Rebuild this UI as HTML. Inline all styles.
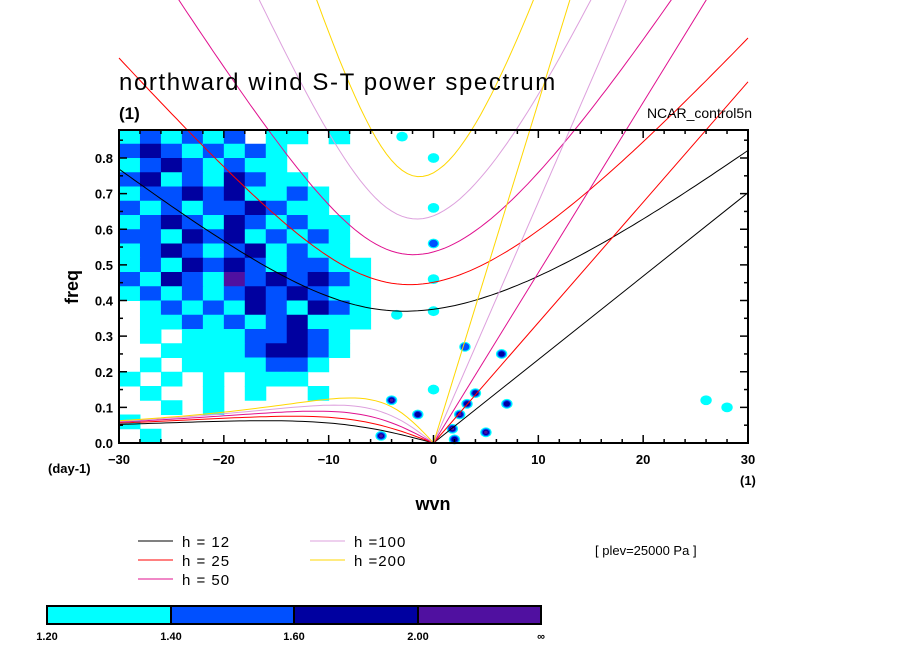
<!DOCTYPE html>
<html><head><meta charset="utf-8"><style>
html,body{margin:0;padding:0;background:#fff;}
svg{display:block;font-family:"Liberation Sans",sans-serif;}
</style></head><body>
<svg id="chart" width="904" height="654" viewBox="0 0 904 654" xmlns="http://www.w3.org/2000/svg">
<g id="fills"></g>
<g id="curves"></g>
<g id="axes"></g>
<text x="119" y="90" font-size="24" letter-spacing="1.6" fill="#000">northward wind S-T power spectrum</text>
<text x="119" y="119" font-size="17" font-weight="bold" fill="#000">(1)</text>
<text x="752" y="118" font-size="14" text-anchor="end" fill="#000">NCAR_control5n</text>
<text x="78" y="287" font-size="18" text-anchor="middle" transform="rotate(-90 78 287)" font-weight="bold" fill="#000">freq</text>
<text x="48" y="473" font-size="13" font-weight="bold" fill="#000">(day-1)</text>
<text x="740" y="485" font-size="13" font-weight="bold" fill="#000">(1)</text>
<text x="433" y="510" font-size="18" text-anchor="middle" font-weight="bold" fill="#000">wvn</text>
<g id="legend"></g>
<text x="595" y="555" font-size="13" fill="#000">[ plev=25000 Pa ]</text>
<g id="cbar"></g>
</svg>
<script>
// ---- data ----
const levelColors = ["none","#00ffff","#0050ff","#0000a0","#5010a0"];
const cbarLabels = ["1.20","1.40","1.60","2.00","∞"];
const depths = [12,25,50,100,200];
const depthColors = ["#000000","#ff0000","#e0108f","#dda0dd","#ffd700"];
const gridS0 = -30, gridDS = 2, gridFTop = 0.88, gridDF = 0.04;
const gridRows = [
"1212120110100",
"2321212100000",
"1232121100000",
"2312132110000",
"1223231121000",
"2121223211000",
"1232132121100",
"2213231212100",
"1232123121100",
"1213232122110",
"2132142323210",
"1212123232110",
"0121213213210",
"0112121231110",
"0101112232100",
"0011112332100",
"0101111221000",
"1010101110000",
"0100101001000",
"0010100000000",
"1000000000000",
"0100000000000"];
const blobS = [-5,-4,-1.5,1.8,2.5,3.2,4,5,7,6.5,3,2,0,0,0,0,0,0,-3,-3.5,26,28];
const blobF = [0.02,0.12,0.08,0.04,0.08,0.11,0.14,0.03,0.11,0.25,0.27,0.01,0.46,0.56,0.66,0.8,0.37,0.15,0.86,0.36,0.12,0.1];
const blobL = [4,4,3,4,4,3,3,4,3,3,2,3,1,2,1,1,1,1,1,1,1,1];
// ---- axes functions ----
const X0=119,X1=748,Y0=443,YT=130;
const xs = s => X0 + (s+30)*(X1-X0)/60;
const yf = f => Y0 - f*(Y0-158)/0.8;
const NS="http://www.w3.org/2000/svg";
function mk(tag,attrs,parent){const e=document.createElementNS(NS,tag);for(const k in attrs)e.setAttribute(k,attrs[k]);parent.appendChild(e);return e;}
const fills=document.getElementById('fills');
gridRows.forEach((row,ri)=>{
  for(let ci=0;ci<row.length;ci++){
    const l=+row[ci]; if(!l) continue;
    const s=gridS0+ci*gridDS, fTop=gridFTop-ri*gridDF;
    const r=mk('rect',{x:xs(s),y:yf(fTop),width:xs(s+gridDS)-xs(s)+0.5,height:yf(fTop-gridDF)-yf(fTop)+0.5,fill:levelColors[l]},fills);
    
    
  }
});
blobS.forEach((s,i)=>{
  for(let l=1;l<=blobL[i];l++){
    const e=mk('ellipse',{cx:xs(s),cy:yf(blobF[i]),rx:7-l*1.3,ry:6-l*1.1,fill:levelColors[l]},fills);
    
    
  }
});
// ---- dispersion curves ----
const beta=2.29e-11,a=6.371e6,g=9.81;
const toCpd = w => w*86400/(2*Math.PI);
const curves=document.getElementById('curves');
function addPath(pts,color,name){
  const p=mk('polyline',{points:pts.map(q=>q[0].toFixed(1)+','+q[1].toFixed(1)).join(' '),fill:'none',stroke:color,'stroke-width':1},curves);
  
  
}
depths.forEach((h,i)=>{
  const c=Math.sqrt(g*h), col=depthColors[i];
  addPath([[xs(0),yf(0)],[xs(30),yf(toCpd(c*30/a))]],col,'kelvin-h'+h);
  const ig=[];
  for(let s=-30;s<=30.01;s+=0.5){
    const k=s/a; let w=Math.sqrt(c*c*k*k+3*beta*c)*1.2;
    for(let it=0;it<50;it++){const F=w*w*w-(c*c*k*k+3*beta*c)*w-beta*c*c*k;const d=3*w*w-(c*c*k*k+3*beta*c);w-=F/d;}
    ig.push([xs(s),yf(toCpd(w))]);
  }
  addPath(ig,col,'inertia-gravity-h'+h);
  const ro=[];
  for(let s=-30;s<=0.01;s+=0.5){const k=s/a;const w=-beta*k/(k*k+3*beta/c);ro.push([xs(s),yf(toCpd(w))]);}
  addPath(ro,col,'rossby-h'+h);
});
// ---- axes ----
const ax=document.getElementById('axes');
const fr=mk('rect',{x:X0,y:YT,width:X1-X0,height:Y0-YT,fill:'none',stroke:'#000','stroke-width':2},ax);

for(let s=-30;s<=30;s+=2){
  const L=(s%10===0)?8:4;
  mk('line',{x1:xs(s),y1:Y0,x2:xs(s),y2:Y0-L,stroke:'#000','stroke-width':1.5},ax);
  mk('line',{x1:xs(s),y1:YT,x2:xs(s),y2:YT+L,stroke:'#000','stroke-width':1.5},ax);
  if(s%10===0){const t=mk('text',{x:xs(s),y:Y0+21,'font-size':13,'font-weight':'bold','text-anchor':'middle'},ax);t.textContent=String(s).replace('-','\u2212');
    }
}
for(let j=0;j<=17;j++){
  const f=j*0.05, L=(j%2===0)?8:4;
  mk('line',{x1:X0,y1:yf(f),x2:X0+L,y2:yf(f),stroke:'#000','stroke-width':1.5},ax);
  mk('line',{x1:X1,y1:yf(f),x2:X1-L,y2:yf(f),stroke:'#000','stroke-width':1.5},ax);
  if(j%2===0){const t=mk('text',{x:X0-6,y:yf(f)+5,'font-size':13,'font-weight':'bold','text-anchor':'end'},ax);t.textContent=f.toFixed(1);
    }
}
// ---- legend ----
const lg=document.getElementById('legend');
const legPos=[[138,541],[138,560],[138,579],[310,541],[310,560]];
const legText=["h = 12","h = 25","h = 50","h =100","h =200"];
depths.forEach((h,i)=>{
  const [x,y]=legPos[i];
  const l=mk('line',{x1:x,y1:y,x2:x+35,y2:y,stroke:depthColors[i],'stroke-width':1},lg);
  
  const t=mk('text',{x:x+44,y:y+6,'font-size':15,'letter-spacing':'1'},lg);t.textContent=legText[i];
  
});
// ---- colorbar ----
const cb=document.getElementById('cbar');
const cbX=[47,171,294,418,541];
for(let i=0;i<4;i++){
  const r=mk('rect',{x:cbX[i],y:606,width:cbX[i+1]-cbX[i],height:18,fill:levelColors[i+1],stroke:'#000','stroke-width':2},cb);
  
}
cbarLabels.forEach((t,i)=>{
  const e=mk('text',{x:cbX[i],y:640,'font-size':11,'font-weight':'bold','text-anchor':'middle'},cb);e.textContent=t;
  
});
</script>
</body></html>
